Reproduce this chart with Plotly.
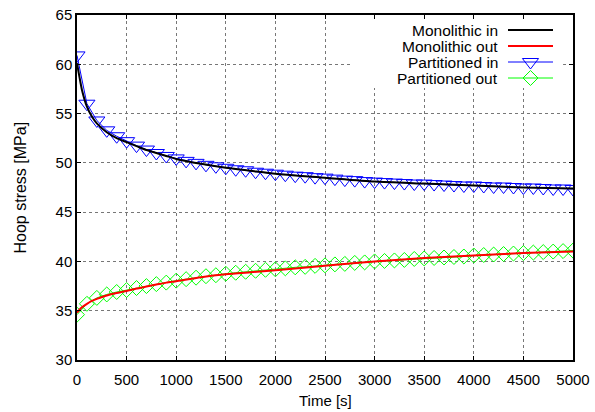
import plotly.graph_objects as go

# ---- data -------------------------------------------------------------
line_time = [0, 25, 50, 100, 150, 200, 300, 400, 500, 600, 700, 800, 900, 1000,
             1250, 1500, 1750, 2000, 2500, 3000, 3500, 4000, 4500, 5000]
mono_in = [60.1, 58.7, 57.4, 55.7, 54.7, 54.0, 53.1, 52.5, 52.1, 51.7, 51.3, 51.0, 50.7, 50.4,
           49.9, 49.5, 49.2, 48.9, 48.5, 48.1, 47.9, 47.7, 47.5, 47.4]
mono_out = [34.8, 35.1, 35.35, 35.7, 36.0, 36.2, 36.55, 36.8, 37.0, 37.25, 37.45, 37.65, 37.85, 38.0,
            38.4, 38.7, 38.9, 39.1, 39.55, 40.0, 40.35, 40.6, 40.85, 41.0]

part_time = list(range(0, 5001, 100))
part_in = [60.9, 56.0, 54.3, 53.3, 52.7, 52.2, 51.75, 51.35, 51.0, 50.7,
           50.45, 50.2, 50.0, 49.8, 49.65, 49.5, 49.35, 49.25, 49.1, 49.0,
           48.9, 48.8, 48.7, 48.65, 48.55, 48.5, 48.4, 48.3, 48.25, 48.15,
           48.1, 48.05, 48.0, 47.95, 47.9, 47.9, 47.85, 47.8, 47.75, 47.7,
           47.7, 47.65, 47.6, 47.6, 47.55, 47.5, 47.5, 47.45, 47.4, 47.4, 47.35]
part_out = [34.6, 35.7, 36.3, 36.65, 36.9, 37.1, 37.3, 37.5, 37.7, 37.85,
            38.05, 38.2, 38.35, 38.5, 38.6, 38.75, 38.85, 38.95, 39.05, 39.15,
            39.2, 39.3, 39.4, 39.45, 39.55, 39.6, 39.7, 39.75, 39.85, 39.9,
            40.0, 40.05, 40.1, 40.15, 40.25, 40.3, 40.35, 40.4, 40.45, 40.5,
            40.6, 40.65, 40.7, 40.75, 40.8, 40.85, 40.9, 40.95, 41.0, 41.05, 41.1]

x_ticks = [0, 500, 1000, 1500, 2000, 2500, 3000, 3500, 4000, 4500, 5000]
y_ticks = [30, 35, 40, 45, 50, 55, 60, 65]
labels = ["Monolithic in", "Monolithic out", "Partitioned in", "Partitioned out"]
colors = ["#000000", "#ff0000", "#0000ff", "#00ff00"]
x_title = "Time [s]"
y_title = "Hoop stress [MPa]"

FONT = "Liberation Sans, Arial, sans-serif"

PL, PR, PT, PB = 77, 573, 15, 360   # plot box in window pixels
W, H = 595, 412

fig = go.Figure()

# marker series first, lines on top
fig.add_trace(go.Scatter(x=part_time, y=part_in, mode="lines+markers", name=labels[2],
                         line=dict(color=colors[2], width=1),
                         marker=dict(symbol="triangle-down-open", size=14,
                                     color=colors[2], line=dict(width=1, color=colors[2])),
                         showlegend=False))
fig.add_trace(go.Scatter(x=part_time, y=part_out, mode="lines+markers", name=labels[3],
                         line=dict(color=colors[3], width=1),
                         marker=dict(symbol="diamond-open", size=11.5,
                                     color=colors[3], line=dict(width=1, color=colors[3])),
                         showlegend=False))
fig.add_trace(go.Scatter(x=line_time, y=mono_in, mode="lines", name=labels[0],
                         line=dict(color=colors[0], width=2, shape="spline", smoothing=0.6),
                         showlegend=False))
fig.add_trace(go.Scatter(x=line_time, y=mono_out, mode="lines", name=labels[1],
                         line=dict(color=colors[1], width=2, shape="spline", smoothing=0.6),
                         showlegend=False))

# ---- gnuplot-style key (pixel-coordinate overlay axes) ----------------
key_y = [30, 46, 62, 78]
key_text_x = 500
key_line = [508, 553]
key_mark_x = 530.5
for i in range(4):
    fig.add_trace(go.Scatter(x=key_line, y=[key_y[i], key_y[i]], xaxis="x2", yaxis="y2",
                             mode="lines", line=dict(color=colors[i], width=2 if i < 2 else 1),
                             showlegend=False, hoverinfo="skip"))
fig.add_trace(go.Scatter(x=[key_mark_x], y=[key_y[2]], xaxis="x2", yaxis="y2", mode="markers",
                         marker=dict(symbol="triangle-down-open", size=14, color=colors[2],
                                     line=dict(width=1, color=colors[2])),
                         showlegend=False, hoverinfo="skip"))
fig.add_trace(go.Scatter(x=[key_mark_x], y=[key_y[3]], xaxis="x2", yaxis="y2", mode="markers",
                         marker=dict(symbol="diamond-open", size=11.5, color=colors[3],
                                     line=dict(width=1, color=colors[3])),
                         showlegend=False, hoverinfo="skip"))


def px_to_paper_x(px):
    return (px - PL) / float(PR - PL)


def px_to_paper_y(py):
    return (PB - py) / float(PB - PT)


annotations = []
for i in range(4):
    annotations.append(dict(x=key_text_x, y=key_y[i], xref="x2", yref="y2", text=labels[i],
                            showarrow=False, xanchor="right", yanchor="middle",
                            font=dict(family=FONT, size=15.5, color="#000")))
annotations.append(dict(x=px_to_paper_x(325), y=px_to_paper_y(401), xref="paper", yref="paper",
                        text=x_title, showarrow=False, xanchor="center", yanchor="middle",
                        font=dict(family=FONT, size=15, color="#000")))
annotations.append(dict(x=px_to_paper_x(20), y=px_to_paper_y(187.5), xref="paper", yref="paper",
                        text=y_title, showarrow=False, textangle=-90,
                        xanchor="center", yanchor="middle",
                        font=dict(family=FONT, size=16, color="#000")))

axis_common = dict(showline=True, linecolor="#000", linewidth=1.5, mirror="ticks",
                   ticks="inside", ticklen=4, tickwidth=1, tickcolor="#000",
                   showgrid=True, gridcolor="#777", griddash="dot", gridwidth=1,
                   zeroline=False, automargin=False, ticklabeloverflow="allow",
                   tickfont=dict(family=FONT, size=15, color="#000"))

fig.update_layout(
    width=W, height=H,
    margin=dict(l=PL, r=W - PR, t=PT, b=H - PB),
    paper_bgcolor="white", plot_bgcolor="white",
    xaxis=dict(range=[0, 5000], tickvals=x_ticks, ticklabelstandoff=5, **axis_common),
    yaxis=dict(range=[30, 65], tickvals=y_ticks, **axis_common),
    xaxis2=dict(overlaying="x", range=[PL, PR], visible=False, automargin=False),
    yaxis2=dict(overlaying="y", range=[PB, PT], visible=False, automargin=False),
    annotations=annotations,
    shapes=[dict(type="rect", xref="x", yref="y", x0=2752, x1=4900, y0=57.6, y1=65,
                 fillcolor="white", line=dict(width=0), layer="between")],
    showlegend=False,
)

fig.write_html("out.html", config={"displayModeBar": False},
               post_script="document.body.style.margin='0';document.body.style.padding='0';")
